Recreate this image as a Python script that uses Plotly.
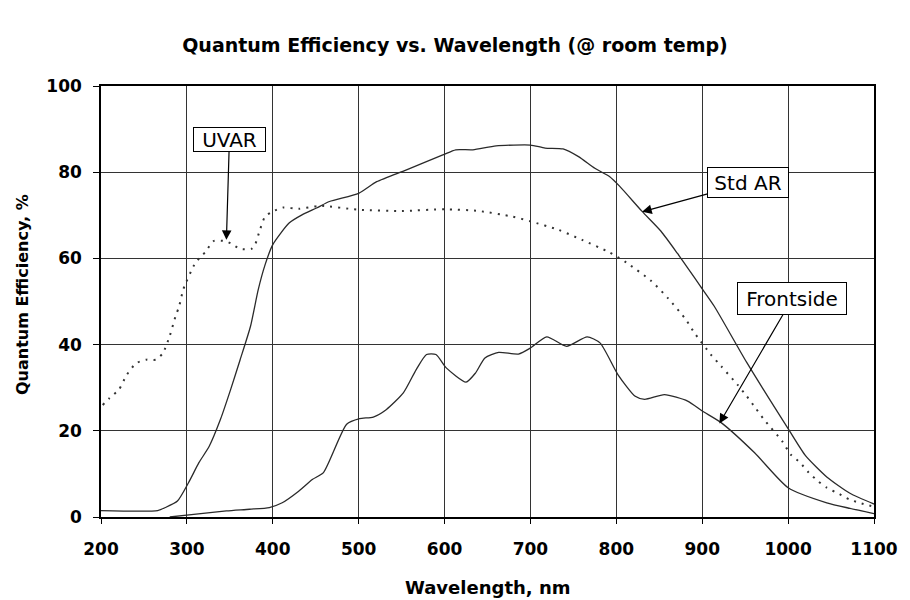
import plotly.graph_objects as go

# ---- data ----
wl_uvar = [202, 210, 221, 230, 241, 253, 264, 272, 280, 287, 291, 296, 310, 322, 331, 345, 351,
           362, 375, 379, 385, 391, 400, 412, 430, 455, 500, 550, 600, 640, 679, 700, 733, 760,
           792, 812, 841, 860, 881, 891, 910, 922, 941, 952, 962, 972, 993, 1003, 1014, 1024,
           1035, 1045, 1060, 1071, 1083, 1100]
qe_uvar = [26, 27.6, 29.6, 33, 35.7, 36.5, 36.5, 38, 42, 46.7, 48.9, 52.9, 59, 61.6, 64, 64, 63.5,
           62.2, 62.2, 63, 66.6, 69.7, 70.9, 71.8, 71.5, 72.2, 71.3, 71.0, 71.4, 71.0, 69.7, 68.6, 66.6, 64.3,
           61.4, 59, 54.7, 50.8, 45.8, 42.7, 37.7, 35, 30.7, 28, 25.3, 22.6, 17.6, 14.5, 12.6, 10.3,
           8.3, 6.8, 5.3, 4.1, 3.3, 2.4]

wl_std = [200, 266, 275, 289, 302, 314, 326, 339, 351, 362, 374, 383, 391, 400, 419, 434, 451, 466,
          500, 521, 555, 598, 613, 633, 660, 700, 717, 738, 756, 775, 792, 804, 830, 852, 871, 883,
          898, 914, 952, 1000, 1020, 1045, 1072, 1100]
qe_std = [1.5, 1.5, 2.2, 3.7, 8, 12.6, 16.4, 22.6, 29.6, 36.5, 44.2, 52.7, 58.5, 63.2, 68.2, 70.1, 71.7, 73.2,
          75.1, 77.8, 80.5, 84, 85.2, 85.2, 86.1, 86.3, 85.6, 85.4, 83.6, 80.9, 79, 76.7, 70.9, 66.3, 61.2, 57.8,
          53.5, 48.9, 35.8, 20.5, 14.3, 9.3, 5.5, 3.0]

wl_front = [280, 308, 346, 373, 396, 411, 429, 446, 459, 486, 501, 517, 532, 552, 567, 579, 590, 602,
            625, 636, 647, 663, 686, 700, 719, 742, 766, 781, 802, 822, 833, 856, 883, 900, 922, 961,
            1000, 1045, 1072, 1100]
qe_front = [0.0, 0.6, 1.4, 1.8, 2.2, 3.3, 5.8, 8.7, 10.3, 21.5, 22.8, 23.2, 24.9, 28.8, 34.2, 37.7, 37.7, 34.6,
            31.3, 33.4, 36.9, 38.2, 37.8, 39.2, 41.8, 39.6, 41.8, 40.4, 33, 28, 27.3, 28.4, 26.9, 24.6, 21.9, 14.9,
            6.8, 3.3, 2.0, 0.8]

x_ticks = [200, 300, 400, 500, 600, 700, 800, 900, 1000, 1100]
y_ticks = [0, 20, 40, 60, 80, 100]

title_text = "Quantum Efficiency vs. Wavelength (@ room temp)"
x_title = "Wavelength, nm"
y_title = "Quantum Efficiency, %"

FONT = "DejaVu Sans"

fig = go.Figure()
fig.add_trace(go.Scatter(x=wl_uvar, y=qe_uvar, mode="lines", name="UVAR",
                         line=dict(color="#333333", width=2, dash="2px,6px", shape="spline", smoothing=0.6)))
fig.add_trace(go.Scatter(x=wl_std, y=qe_std, mode="lines", name="Std AR",
                         line=dict(color="#2a2a2a", width=1.3, shape="spline", smoothing=0.6)))
fig.add_trace(go.Scatter(x=wl_front, y=qe_front, mode="lines", name="Frontside",
                         line=dict(color="#2a2a2a", width=1.3, shape="spline", smoothing=0.6)))

ann_common = dict(showarrow=True, arrowhead=2, arrowsize=1.6, arrowwidth=1.2, arrowcolor="black",
                  axref="pixel", ayref="pixel", bgcolor="white", bordercolor="black", borderwidth=1,
                  font=dict(family=FONT, size=20, color="black"))

annotations = [
    dict(x=346, y=64.3, text="UVAR", ax=3, ay=-100, width=69, height=21, borderpad=1, **ann_common),
    dict(x=830, y=70.8, text="Std AR", ax=106, ay=-29, width=76, height=25, borderpad=2, **ann_common),
    dict(x=920, y=21.7, text="Frontside", ax=73, ay=-125, width=104, height=27, borderpad=2, **ann_common),
    dict(x=0.5, y=0, xref="paper", yref="paper", text=x_title, showarrow=False, yshift=-70,
         yanchor="middle", font=dict(family=FONT, size=18, color="black", weight="bold")),
    dict(x=0, y=0.515, xref="paper", yref="paper", text=y_title, showarrow=False, xshift=-79,
         textangle=-90, xanchor="center", font=dict(family=FONT, size=16, color="black", weight="bold")),
]

fig.update_layout(
    width=910, height=600,
    margin=dict(l=101, r=27, t=86, b=83),
    paper_bgcolor="white", plot_bgcolor="white",
    showlegend=False,
    title=dict(text=title_text, x=0.5, xref="container", y=1 - 45 / 600, yref="container",
               xanchor="center", yanchor="middle",
               font=dict(family=FONT, size=19, color="black", weight="bold")),
    annotations=annotations,
)
fig.update_xaxes(range=[200, 1100], tickvals=x_ticks, ticks="outside", ticklen=5, tickcolor="black",
                 showgrid=True, gridcolor="#333333", gridwidth=1, zeroline=False,
                 showline=True, linecolor="black", linewidth=1.5, mirror=True,
                 ticklabelstandoff=11,
                 tickfont=dict(family=FONT, size=17, color="black", weight="bold"))
fig.update_yaxes(range=[0, 100], tickvals=y_ticks, ticks="outside", ticklen=6, tickcolor="black",
                 showgrid=True, gridcolor="#333333", gridwidth=1, zeroline=False,
                 showline=True, linecolor="black", linewidth=1.5, mirror=True,
                 ticklabelstandoff=8,
                 tickfont=dict(family=FONT, size=17, color="black", weight="bold"))

fig.write_html("out.html")
